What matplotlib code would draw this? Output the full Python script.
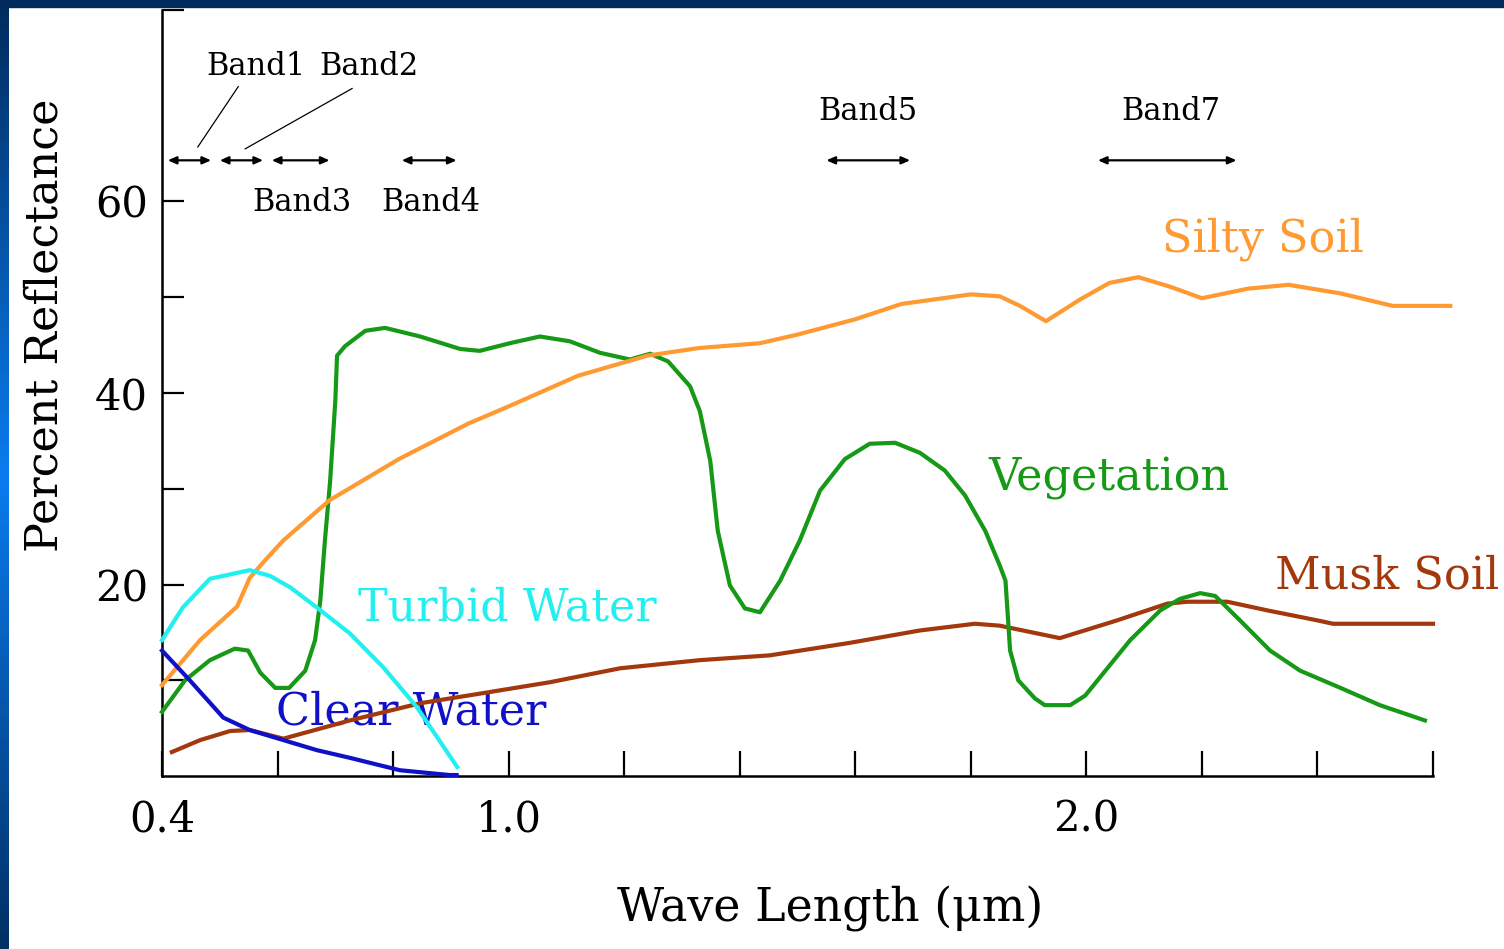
import numpy as np
import matplotlib
matplotlib.use("Agg")
import matplotlib.pyplot as plt
from matplotlib.colors import LinearSegmentedColormap
from matplotlib.patches import Rectangle

plt.rcParams["font.family"] = ["DejaVu Serif"]

# %%
# spectral reflectance curves (wavelength in um, reflectance in %)
silty_x = [0.40, 0.466, 0.53, 0.552, 0.578, 0.61, 0.69, 0.81, 0.93, 1.00, 1.12, 1.24,
           1.33, 1.435, 1.50, 1.60, 1.68, 1.80, 1.85, 1.885, 1.93, 1.99, 2.04, 2.09,
           2.145, 2.20, 2.28, 2.35, 2.44, 2.53, 2.63]
silty_y = [9.5, 14.2, 17.7, 20.7, 22.5, 24.6, 28.8, 33.1, 36.8, 38.6, 41.8, 43.9,
           44.7, 45.2, 46.1, 47.7, 49.3, 50.3, 50.1, 49.1, 47.5, 49.8, 51.5, 52.1,
           51.1, 49.9, 50.9, 51.3, 50.4, 49.1, 49.1]

veg_x = [0.40, 0.44, 0.483, 0.526, 0.549, 0.57, 0.596, 0.62, 0.648, 0.665, 0.674,
         0.682, 0.691, 0.70, 0.703, 0.717, 0.752, 0.786, 0.847, 0.916, 0.95, 1.002,
         1.054, 1.106, 1.158, 1.21, 1.245, 1.276, 1.314, 1.331, 1.349, 1.362, 1.383,
         1.409, 1.435, 1.47, 1.504, 1.539, 1.582, 1.625, 1.669, 1.712, 1.755, 1.79,
         1.825, 1.85, 1.86, 1.868, 1.882, 1.911, 1.928, 1.972, 1.998, 2.041, 2.076,
         2.128, 2.162, 2.197, 2.223, 2.266, 2.318, 2.37, 2.44, 2.508, 2.586]
veg_y = [6.7, 10.0, 12.1, 13.3, 13.1, 10.8, 9.2, 9.2, 11.0, 14.2, 18.3,
         24.6, 30.8, 39.2, 43.9, 44.9, 46.5, 46.8, 45.9, 44.6, 44.4, 45.2,
         45.9, 45.4, 44.2, 43.5, 44.1, 43.3, 40.7, 38.1, 32.9, 25.6, 19.9,
         17.5, 17.1, 20.4, 24.6, 29.8, 33.1, 34.7, 34.8, 33.75, 31.9, 29.3,
         25.6, 22.0, 20.4, 13.1, 10.0, 8.1, 7.4, 7.4, 8.4, 11.6, 14.2,
         17.3, 18.5, 19.1, 18.8, 16.25, 13.1, 11.0, 9.2, 7.4, 5.8]

musk_x = [0.417, 0.466, 0.518, 0.552, 0.61, 0.725, 0.847, 0.95, 1.072, 1.193, 1.331,
          1.452, 1.59, 1.712, 1.807, 1.85, 1.954, 2.053, 2.14, 2.175, 2.244, 2.313,
          2.40, 2.427, 2.60]
musk_y = [2.5, 3.75, 4.7, 4.8, 3.9, 5.8, 7.6, 8.6, 9.8, 11.25, 12.1,
          12.6, 13.9, 15.2, 15.9, 15.7, 14.4, 16.25, 18.0, 18.2, 18.2, 17.3,
          16.25, 15.9, 15.9]

turbid_x = [0.40, 0.436, 0.483, 0.552, 0.587, 0.622, 0.668, 0.725, 0.783, 0.841, 0.911]
turbid_y = [14.2, 17.6, 20.6, 21.5, 20.9, 19.7, 17.6, 14.9, 11.35, 7.2, 0.94]

clear_x = [0.40, 0.448, 0.506, 0.552, 0.61, 0.668, 0.725, 0.812, 0.898, 0.91]
clear_y = [13.1, 10.0, 6.1, 4.8, 3.75, 2.7, 1.9, 0.6, 0.1, 0.1]

# Landsat TM bands as drawn (um)
band_names = ["Band1", "Band2", "Band3", "Band4", "Band5", "Band7"]
band_lo = [0.41, 0.50, 0.59, 0.815, 1.55, 2.02]
band_hi = [0.485, 0.575, 0.69, 0.91, 1.695, 2.26]

xtick_vals = [0.4, 0.6, 0.8, 1.0, 1.2, 1.4, 1.6, 1.8, 2.0, 2.2, 2.4, 2.6]
xtick_text = ["0.4", "", "", "1.0", "", "", "", "", "2.0", "", "", ""]
ytick_vals = [10, 20, 30, 40, 50, 60, 80]
ytick_text = ["", "20", "", "40", "", "60", ""]

# %%
W, H = 1504, 949
fig = plt.figure(figsize=(W / 100, H / 100), dpi=100, facecolor="white")

# slide frame: navy top band, blue gradient strip on the left
fig.patches.append(Rectangle((0, 1 - 7 / H), 1, 7 / H, transform=fig.transFigure,
                             color="#012b5c", zorder=0))
strip = fig.add_axes([0, 0, 9 / W, 1])
strip.axis("off")
cmap = LinearSegmentedColormap.from_list("frame", ["#012b5c", "#0a7cf0", "#012f63"])
strip.imshow(np.linspace(0, 1, 256)[:, None], cmap=cmap, aspect="auto")

ax = fig.add_axes([162 / W, 1 - 776 / H, (1433 - 162) / W, (776 - 10) / H])
ax.set_facecolor("none")

ax.plot(musk_x, musk_y, color="#a3380c", lw=3, clip_on=False, zorder=3)
ax.plot(veg_x, veg_y, color="#169916", lw=3, clip_on=False, zorder=4)
ax.plot(silty_x, silty_y, color="#ff9a33", lw=3, clip_on=False, zorder=5)
ax.plot(turbid_x, turbid_y, color="#22f0f0", lw=3, clip_on=False, zorder=6)
ax.plot(clear_x, clear_y, color="#1010c8", lw=3, clip_on=False, zorder=7)

lab = dict(fontsize=32, va="center", ha="left", zorder=1, clip_on=False)
ax.text(2.131, 56.1, "Silty Soil", color="#ff9a33", **lab)
ax.text(1.83, 31.1, "Vegetation", color="#169916", **lab)
ax.text(2.327, 20.9, "Musk Soil", color="#a3380c", **lab)
ax.text(0.739, 17.6, "Turbid Water", color="#22f0f0", **lab)
ax.text(0.597, 6.7, "Clear Water", color="#1010c8", **lab)

# band arrows and labels
arrow_y = 64.3
for lo, hi in zip(band_lo, band_hi):
    ax.annotate("", xy=(hi, arrow_y), xytext=(lo, arrow_y), annotation_clip=False,
                arrowprops=dict(arrowstyle="<|-|>,head_length=0.5,head_width=0.22",
                                color="black", lw=1.6, shrinkA=0, shrinkB=0))
band_lab = dict(fontsize=22, ha="center", va="center")
ax.text(0.563, 74.1, band_names[0], **band_lab)
ax.text(0.758, 74.1, band_names[1], **band_lab)
ax.text(0.642, 59.9, band_names[2], **band_lab)
ax.text(0.866, 59.9, band_names[3], **band_lab)
ax.text(1.622, 69.4, band_names[4], **band_lab)
ax.text(2.147, 69.4, band_names[5], **band_lab)
ax.plot([0.532, 0.462], [72.0, 65.7], color="black", lw=0.9)
ax.plot([0.729, 0.544], [71.8, 65.5], color="black", lw=0.9)

ax.set_xlim(0.4, 2.6)
ax.set_ylim(0, 80)
for side in ("top", "right"):
    ax.spines[side].set_visible(False)
for side in ("left", "bottom"):
    ax.spines[side].set_linewidth(1.8)

ax.set_xticks(xtick_vals)
ax.set_xticklabels(xtick_text)
ax.set_yticks(ytick_vals)
ax.set_yticklabels(ytick_text)
ax.tick_params(axis="x", direction="in", length=18, width=1.6, pad=16, labelsize=30)
ax.tick_params(axis="y", direction="in", length=16, width=1.6, pad=10, labelsize=30)

ax.set_xlabel("Wave Length (\u03bcm)", fontsize=33, va="top")
ax.xaxis.set_label_coords(0.526, -0.143)
ax.set_ylabel("Percent Reflectance", fontsize=32, va="center")
ax.yaxis.set_label_coords(-0.092, 0.589)

fig.savefig("out.png", dpi=100, facecolor="white")
